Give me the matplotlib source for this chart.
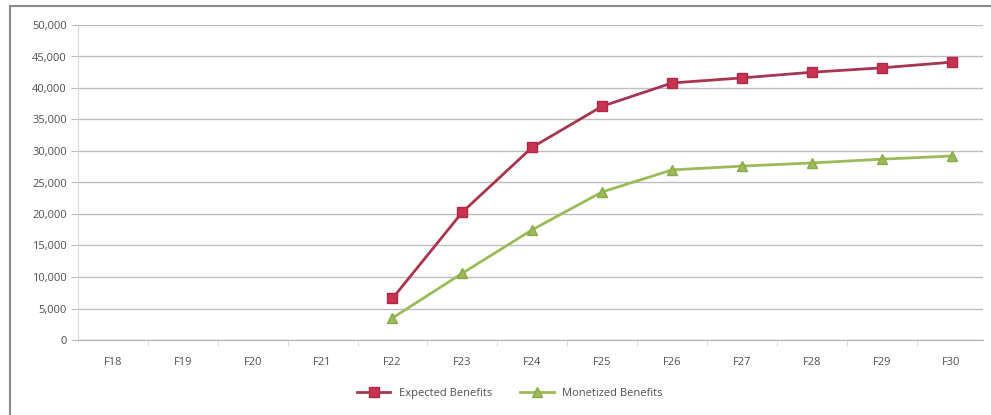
import matplotlib
matplotlib.use("Agg")
import matplotlib.pyplot as plt
from matplotlib.patches import Rectangle
from matplotlib.ticker import FuncFormatter, MultipleLocator

plt.rcParams['font.family'] = ['Open Sans', 'DejaVu Sans']

years = ['F18', 'F19', 'F20', 'F21', 'F22', 'F23', 'F24', 'F25', 'F26', 'F27', 'F28', 'F29', 'F30']
expected = [None, None, None, None, 6600, 20300, 30600, 37100, 40800, 41600, 42500, 43200, 44100]
monetized = [None, None, None, None, 3500, 10600, 17500, 23500, 27000, 27600, 28100, 28700, 29200]

red_line = '#A8354E'
red_mark = '#C8334F'
green = '#9BBB59'

fig = plt.figure(figsize=(9.91, 4.15), dpi=100)
ax = fig.add_axes([78 / 991, 75 / 415, 905 / 991, 315 / 415])

x = list(range(len(years)))
xs_e = [i for i, v in zip(x, expected) if v is not None]
ys_e = [v for v in expected if v is not None]
xs_m = [i for i, v in zip(x, monetized) if v is not None]
ys_m = [v for v in monetized if v is not None]

ax.plot(xs_e, ys_e, color=red_line, lw=2, marker='s', ms=7,
        mfc=red_mark, mec='#B02848', label='Expected Benefits', zorder=3)
ax.plot(xs_m, ys_m, color=green, lw=2, marker='^', ms=7,
        mfc=green, mec='#8AAA4A', label='Monetized Benefits', zorder=3)

ax.set_xlim(-0.5, len(years) - 0.55)
ax.set_ylim(0, 50000)
ax.yaxis.set_major_locator(MultipleLocator(5000))
ax.yaxis.set_major_formatter(FuncFormatter(lambda v, p: f'{int(v):,}'))
ax.set_xticks(x)
ax.set_xticklabels(years)
ax.set_xticks([i + 0.5 for i in x[:-1]], minor=True)

ax.grid(axis='y', color='#BDBDBD', lw=1)
ax.set_axisbelow(True)
for s in ['top', 'right']:
    ax.spines[s].set_visible(False)
ax.spines['left'].set_color('#D8D8D8')
ax.spines['bottom'].set_color('#B0B0B0')
ax.tick_params(axis='y', length=5, color='#BDBDBD', labelsize=8, labelcolor='#505050', pad=3)
ax.tick_params(axis='x', which='major', length=0, labelsize=8, labelcolor='#505050', pad=12)
ax.tick_params(axis='x', which='minor', length=4, color='#D8D8D8')

fig.legend(loc='center', bbox_to_anchor=(510 / 991, 22 / 415), ncol=2, frameon=False,
           fontsize=8, handlelength=3, columnspacing=2.5, labelcolor='#505050')

fig.patches.append(Rectangle((10 / 991, -0.01), 1.0, (415 - 6) / 415 + 0.01,
                             transform=fig.transFigure, fill=False,
                             edgecolor='#8A8A8A', lw=1.5))

fig.savefig('out.png', dpi=100, facecolor='white')
